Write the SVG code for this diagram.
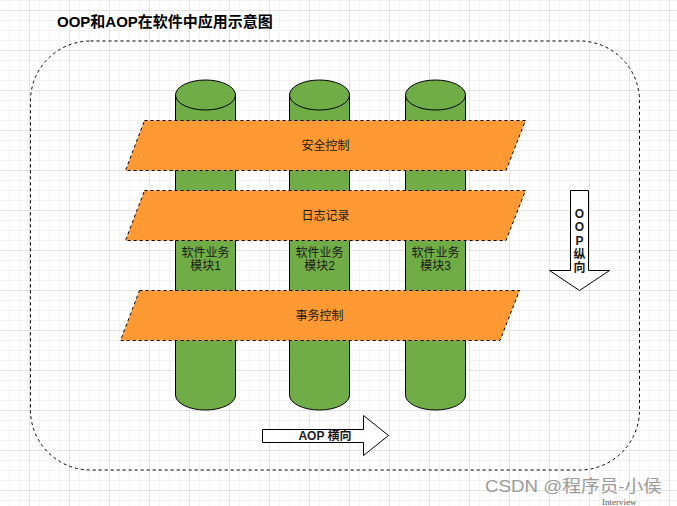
<svg xmlns="http://www.w3.org/2000/svg" width="677" height="506" viewBox="0 0 677 506">
<defs>
<pattern id="grid" patternUnits="userSpaceOnUse" x="29" y="10" width="40" height="40">
<path d="M10.5,0V40M20.5,0V40M30.5,0V40M0,10.5H40M0,20.5H40M0,30.5H40" stroke="#f3f3f3" stroke-width="1" fill="none"/>
<path d="M0.5,0V40M0,0.5H40" stroke="#e2e2e2" stroke-width="1" fill="none"/>
</pattern>
<style>
.t{font-family:"Liberation Sans","Noto Sans CJK SC",sans-serif;font-size:12px;fill:#1a1a1a;text-anchor:middle}
.b{font-weight:bold}
.cyl{fill:#70AD47;stroke:#000;stroke-width:1}
.par{fill:#FF9933;stroke:#000;stroke-width:1;stroke-dasharray:3 3}
.arr{fill:#fff;stroke:#000;stroke-width:1}
</style>
</defs>
<rect width="677" height="506" fill="#fff"/>
<rect width="677" height="506" fill="url(#grid)"/>
<text x="57" y="26.5" style="font-family:'Liberation Sans','Noto Sans CJK SC',sans-serif;font-size:15px;font-weight:bold;fill:#000">OOP和AOP在软件中应用示意图</text>
<g id="container">
<rect x="30.5" y="41" width="609" height="429" rx="60" ry="60" fill="none" stroke="#000" stroke-width="1" stroke-dasharray="3 3"/>
</g>
<g id="module1">
<path class="cyl" d="M175.5,95a30,15 0 0,1 60,0V395a30,15 0 0,1 -60,0Z"/>
<path d="M175.5,95a30,15 0 0,0 60,0" fill="none" stroke="#000"/>
</g>
<g id="module2">
<path class="cyl" d="M289.5,95a30,15 0 0,1 60,0V395a30,15 0 0,1 -60,0Z"/>
<path d="M289.5,95a30,15 0 0,0 60,0" fill="none" stroke="#000"/>
</g>
<g id="module3">
<path class="cyl" d="M405.5,95a30,15 0 0,1 60,0V395a30,15 0 0,1 -60,0Z"/>
<path d="M405.5,95a30,15 0 0,0 60,0" fill="none" stroke="#000"/>
</g>
<g id="security">
<polygon class="par" points="144.5,120.5 525.5,120.5 506,170.5 125.5,170.5"/>
<text class="t" x="325.5" y="150">安全控制</text>
</g>
<g id="logging">
<polygon class="par" points="144.5,190.5 525.5,190.5 506,240.5 125.5,240.5"/>
<text class="t" x="325.5" y="220">日志记录</text>
</g>
<g id="module-labels">
<text class="t" x="205.5" y="257">软件业务</text>
<text class="t" x="205.5" y="270">模块1</text>
<text class="t" x="319.5" y="257">软件业务</text>
<text class="t" x="319.5" y="270">模块2</text>
<text class="t" x="435.5" y="257">软件业务</text>
<text class="t" x="435.5" y="270">模块3</text>
</g>
<g id="transaction">
<polygon class="par" points="139.5,290.5 519.5,290.5 500,340.5 120.5,340.5"/>
<text class="t" x="319.5" y="320">事务控制</text>
</g>
<g id="connectors">
<g id="oop-arrow">
<polygon class="arr" points="570.5,190.5 588.5,190.5 588.5,270.5 609.5,270.5 579.5,290.5 549.5,270.5 570.5,270.5"/>
<text class="t b" x="579.5" y="217.5">O</text>
<text class="t b" x="579.5" y="231">O</text>
<text class="t b" x="579.5" y="244.5">P</text>
<text class="t b" x="579.5" y="258.5">纵</text>
<text class="t b" x="579.5" y="271.5">向</text>
</g>
<g id="aop-arrow">
<polygon class="arr" points="262.5,429.5 363.5,429.5 363.5,415.5 388.5,435.5 363.5,455.5 363.5,442.5 262.5,442.5"/>
<text class="t b" x="325" y="440">AOP 横向</text>
</g>
</g>
<text x="485" y="492" textLength="177" lengthAdjust="spacingAndGlyphs" style="font-family:'Liberation Sans','Noto Sans CJK SC',sans-serif;font-size:17px;fill:#9a9a9a">CSDN @程序员-小侯</text>
<text x="602" y="504.5" style="font-family:'Liberation Serif',serif;font-size:9px;fill:#555">Interview</text>
</svg>
